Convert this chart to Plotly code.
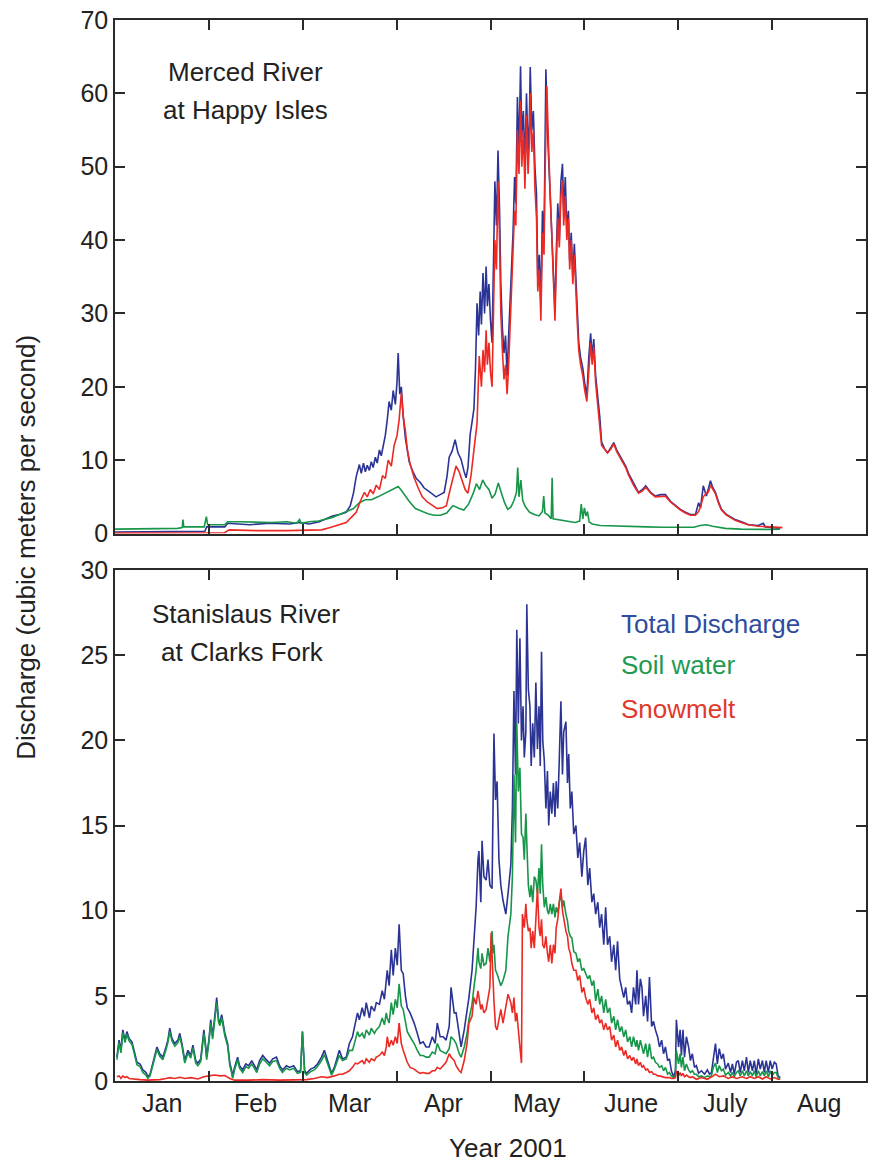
import plotly.graph_objects as go

# x values are days since 1 Jan 2001 (axis uses 30-day month spacing as in the original figure)
month_labels = ["Jan", "Feb", "Mar", "Apr", "May", "June", "July", "Aug"]
month_centers = [15, 45, 75, 105, 135, 165, 195, 225]
month_bounds = [30, 60, 90, 120, 150, 180, 210]

# ---------------- Merced River at Happy Isles (top panel) ----------------
merced_total = [
    (0.0, 0.2), (11.2, 0.2), (21.7, 0.25), (28.7, 0.3), (29.3, 0.9), (35.1, 0.9), (36.0, 1.4), (43.0, 1.2),
    (49.4, 1.4), (55.8, 1.3), (59.0, 1.5), (62.1, 1.3), (65.3, 1.6), (67.6, 2.0), (69.5, 2.4), (71.7, 2.6),
    (73.9, 2.9), (75.2, 3.8), (76.2, 5.5), (77.1, 7.8), (78.1, 9.4), (78.7, 8.2), (79.4, 9.6), (80.0, 8.4),
    (80.6, 9.3), (81.3, 8.6), (81.9, 9.8), (82.5, 9.0), (83.2, 10.4), (83.8, 9.6), (84.5, 11.4), (85.1, 10.6),
    (85.7, 12.0), (86.4, 13.4), (87.0, 15.5), (87.6, 18.0), (88.3, 16.8), (88.9, 19.5), (89.6, 17.6), (90.1, 20.5),
    (90.5, 24.6), (91.0, 19.0), (91.5, 20.0), (92.1, 16.0), (92.8, 13.0), (93.4, 11.6), (94.0, 9.8), (95.0, 8.6),
    (96.3, 7.5), (97.5, 7.0), (98.8, 6.2), (100.1, 5.8), (101.4, 5.4), (102.6, 5.0), (103.9, 5.3), (105.2, 5.6),
    (106.1, 7.8), (106.8, 10.4), (107.7, 11.2), (108.7, 12.8), (109.6, 11.0), (110.6, 10.1), (111.6, 8.4), (112.2, 7.6),
    (112.8, 9.0), (113.5, 13.5), (114.1, 15.2), (114.7, 17.0), (115.2, 22.5), (115.7, 31.4), (116.2, 27.0), (116.7, 33.0),
    (117.1, 28.5), (117.6, 35.5), (118.1, 30.0), (118.6, 36.4), (119.0, 31.0), (119.5, 34.0), (120.0, 29.0), (120.5, 26.0),
    (121.0, 38.0), (121.4, 48.0), (121.9, 42.0), (122.4, 52.2), (122.9, 44.0), (123.3, 34.0), (123.8, 28.0), (124.3, 24.6),
    (124.8, 27.0), (125.3, 21.5), (125.7, 26.0), (126.2, 31.0), (126.7, 36.0), (127.2, 41.0), (127.7, 48.6), (128.1, 45.0),
    (128.6, 59.5), (129.1, 52.0), (129.6, 63.7), (130.0, 54.0), (130.5, 57.6), (131.0, 50.0), (131.5, 60.0), (132.0, 52.0),
    (132.4, 56.0), (132.7, 63.6), (133.2, 55.0), (133.7, 57.6), (134.2, 50.0), (134.7, 46.3), (135.1, 35.0), (135.6, 38.0),
    (136.1, 31.4), (136.6, 44.0), (137.1, 40.0), (137.4, 52.0), (137.7, 63.3), (138.2, 55.0), (138.6, 50.8), (139.1, 46.0),
    (139.6, 41.8), (140.1, 36.0), (140.6, 30.4), (141.0, 38.0), (141.5, 45.0), (142.0, 40.0), (142.5, 48.0), (143.0, 50.4),
    (143.4, 44.0), (143.9, 48.6), (144.4, 41.3), (144.9, 44.0), (145.3, 37.2), (145.8, 41.0), (146.3, 35.0), (146.8, 39.5),
    (147.3, 33.7), (147.7, 30.0), (148.2, 26.0), (148.8, 24.0), (149.5, 22.5), (150.1, 20.5), (150.8, 18.8), (151.4, 24.0),
    (152.0, 27.3), (152.5, 24.0), (153.0, 26.5), (153.6, 21.5), (154.2, 19.0), (154.9, 16.0), (155.5, 12.5), (156.5, 11.5),
    (157.4, 11.0), (158.4, 11.8), (159.4, 12.4), (160.3, 11.4), (161.3, 10.6), (162.2, 10.0), (163.2, 9.2), (164.1, 8.2),
    (165.7, 6.8), (167.3, 5.6), (168.6, 6.0), (169.6, 6.5), (171.2, 5.6), (172.7, 5.1), (174.3, 5.3), (175.9, 5.3),
    (177.5, 4.4), (179.1, 3.8), (180.7, 3.3), (182.3, 2.9), (183.9, 2.6), (185.5, 2.6), (186.5, 4.2), (187.1, 3.5),
    (188.0, 6.5), (189.0, 5.1), (189.6, 6.0), (190.3, 7.2), (190.9, 6.4), (191.9, 5.6), (192.8, 4.4), (193.8, 3.3),
    (195.4, 2.6), (198.2, 1.9), (200.8, 1.5), (202.4, 1.2), (205.6, 1.1), (207.2, 1.4), (207.8, 0.9), (209.7, 0.8),
    (211.3, 0.8), (212.6, 0.7),
]

merced_snow = [
    (0.0, 0.05), (20.0, 0.05), (28.7, 0.1), (35.0, 0.1), (36.5, 0.5), (45.0, 0.4), (55.0, 0.4), (62.0, 0.4),
    (66.0, 0.5), (68.5, 0.8), (72.0, 1.2), (73.9, 1.5), (75.5, 2.2), (77.1, 2.9), (78.5, 4.5), (79.7, 5.6),
    (80.6, 5.0), (81.6, 6.0), (82.5, 5.4), (83.5, 6.6), (84.5, 6.0), (85.5, 7.9), (86.4, 7.5), (87.3, 10.0),
    (88.3, 9.2), (89.2, 12.0), (90.1, 13.3), (90.8, 15.5), (91.5, 19.2), (92.1, 16.0), (92.8, 14.0), (93.4, 11.5),
    (94.3, 9.5), (95.6, 7.6), (96.9, 6.2), (98.2, 5.0), (99.8, 4.3), (101.4, 3.8), (103.0, 3.4), (104.6, 3.5),
    (105.9, 3.8), (107.1, 6.0), (108.1, 7.9), (109.0, 9.2), (110.0, 8.4), (110.9, 7.3), (111.9, 6.0), (112.8, 5.5),
    (113.8, 8.0), (114.7, 11.4), (115.7, 15.0), (116.4, 24.2), (117.1, 20.0), (117.6, 25.0), (118.1, 22.0), (118.6, 27.7),
    (119.0, 23.0), (119.5, 26.0), (120.0, 22.0), (120.5, 20.0), (121.0, 30.0), (121.4, 40.0), (121.9, 36.0), (122.4, 48.0),
    (122.9, 40.0), (123.3, 30.0), (123.8, 25.0), (124.3, 21.0), (124.8, 23.0), (125.3, 19.0), (125.7, 22.0), (126.2, 27.0),
    (126.7, 32.0), (127.2, 38.0), (127.7, 44.0), (128.1, 42.0), (128.6, 55.0), (129.1, 49.0), (129.6, 59.0), (130.0, 50.0),
    (130.5, 55.0), (131.0, 47.0), (131.5, 57.0), (132.0, 49.0), (132.4, 53.0), (132.7, 60.0), (133.2, 52.0), (133.7, 55.0),
    (134.2, 47.0), (134.7, 43.0), (135.1, 33.0), (135.6, 36.0), (136.1, 29.0), (136.6, 41.0), (137.1, 38.0), (137.4, 48.0),
    (137.7, 55.0), (138.0, 61.0), (138.6, 52.0), (139.1, 46.0), (139.6, 40.0), (140.1, 34.0), (140.6, 29.0), (141.0, 36.0),
    (141.5, 43.0), (142.0, 39.0), (142.5, 46.0), (143.0, 48.0), (143.4, 42.0), (143.9, 46.0), (144.4, 40.0), (144.9, 43.0),
    (145.3, 36.0), (145.8, 40.0), (146.3, 34.0), (146.8, 38.0), (147.3, 32.0), (147.7, 29.0), (148.2, 25.0), (148.8, 23.0),
    (149.5, 21.5), (150.1, 19.5), (150.8, 18.0), (151.4, 22.5), (152.0, 26.0), (152.5, 23.0), (153.0, 25.5), (153.6, 20.5),
    (154.2, 18.0), (154.9, 15.0), (155.5, 12.0), (156.5, 11.5), (157.4, 11.0), (158.4, 11.5), (159.4, 12.2), (160.3, 11.2),
    (161.3, 10.5), (162.2, 9.8), (163.2, 9.0), (164.1, 8.0), (165.7, 6.6), (167.3, 5.5), (168.6, 5.8), (169.6, 6.3),
    (171.2, 5.5), (172.7, 5.0), (174.3, 5.1), (175.9, 5.1), (177.5, 4.3), (179.1, 3.7), (180.7, 3.2), (182.3, 2.8),
    (183.9, 2.5), (185.5, 2.5), (186.5, 3.0), (187.1, 3.6), (188.0, 5.0), (189.0, 5.5), (189.6, 5.6), (190.3, 6.6),
    (190.9, 6.2), (191.9, 5.4), (192.8, 4.2), (193.8, 3.2), (195.4, 2.5), (198.2, 1.8), (200.8, 1.4), (202.4, 1.2),
    (205.6, 1.0), (209.7, 0.9), (211.3, 0.8), (213.3, 0.8),
]

merced_soil = [
    (0.0, 0.6), (10.0, 0.6), (20.0, 0.7), (21.5, 0.8), (21.7, 1.9), (22.0, 0.9), (28.5, 0.9), (29.2, 2.3),
    (29.6, 1.2), (35.0, 1.2), (36.0, 1.6), (40.0, 1.6), (45.0, 1.5), (50.0, 1.5), (55.0, 1.6), (58.0, 1.4),
    (59.0, 1.9), (59.5, 1.4), (62.0, 1.6), (65.0, 1.7), (69.5, 2.2), (72.0, 2.6), (74.0, 3.0), (76.2, 3.4),
    (78.1, 4.2), (80.0, 4.6), (82.0, 4.6), (84.0, 5.0), (86.0, 5.4), (88.0, 5.8), (89.5, 6.2), (90.5, 6.4),
    (91.5, 5.9), (92.5, 5.3), (94.0, 4.4), (96.0, 3.4), (98.0, 3.0), (100.0, 2.7), (102.0, 2.5), (104.0, 2.5),
    (106.0, 2.8), (108.0, 3.8), (110.0, 3.4), (111.5, 3.2), (113.0, 4.0), (114.5, 5.5), (115.5, 6.8), (116.5, 6.0),
    (117.5, 7.3), (118.5, 6.5), (119.5, 6.0), (120.5, 4.8), (121.5, 5.4), (122.5, 6.9), (123.5, 5.5), (124.5, 4.2),
    (125.5, 3.3), (126.5, 3.6), (127.5, 4.5), (128.3, 5.6), (128.7, 9.0), (129.1, 5.0), (129.7, 7.3), (130.3, 4.5),
    (131.2, 3.6), (132.5, 2.9), (134.0, 2.6), (135.5, 2.4), (136.6, 3.0), (137.0, 5.1), (137.4, 2.8), (138.4, 2.5),
    (139.4, 2.0), (139.7, 7.6), (140.0, 2.0), (141.5, 1.9), (143.5, 1.8), (145.5, 1.6), (147.0, 1.5), (148.5, 1.7),
    (149.0, 4.0), (149.5, 2.0), (150.0, 3.5), (150.5, 2.4), (151.0, 3.0), (151.5, 1.6), (152.5, 1.3), (155.0, 1.1),
    (160.0, 1.0), (165.0, 0.95), (170.0, 0.9), (175.0, 0.85), (180.0, 0.8), (185.0, 0.85), (187.0, 1.1), (189.0, 1.2),
    (191.0, 1.0), (195.0, 0.7), (200.0, 0.6), (205.0, 0.55), (210.0, 0.55), (212.5, 0.6),
]

# ---------------- Stanislaus River at Clarks Fork (bottom panel) ----------------
stanislaus_total = [
    (0.6, 1.4), (1.3, 2.4), (1.9, 1.8), (2.5, 3.0), (3.2, 2.4), (3.8, 2.9), (4.5, 2.5), (5.4, 2.3), (6.1, 1.8),
    (7.0, 1.1), (8.0, 1.0), (8.9, 0.65), (9.9, 0.5), (10.5, 0.25), (11.2, 0.4), (12.1, 1.05), (12.7, 1.6), (13.4, 2.0),
    (14.3, 1.6), (15.3, 1.4), (16.3, 2.0), (16.9, 2.4), (17.5, 3.1), (18.2, 2.5), (19.1, 2.2), (20.1, 2.4), (20.7, 2.8),
    (21.4, 2.2), (22.3, 1.2), (23.3, 1.8), (24.2, 1.5), (24.9, 2.1), (25.8, 1.2), (26.5, 1.05), (27.4, 1.3), (28.4, 3.0),
    (29.0, 2.0), (29.3, 1.4), (30.0, 2.4), (30.6, 3.6), (31.2, 2.6), (31.9, 3.8), (32.5, 4.9), (33.1, 3.6), (33.5, 3.4),
    (34.1, 3.9), (35.1, 2.8), (36.0, 2.2), (36.7, 1.05), (37.3, 0.6), (37.6, 0.25), (38.2, 0.8), (39.2, 1.4), (39.8, 0.9),
    (40.8, 0.65), (41.8, 1.0), (42.7, 0.9), (43.7, 1.2), (44.6, 0.9), (45.3, 0.65), (46.2, 1.2), (47.2, 1.5), (48.1, 1.3),
    (49.4, 1.05), (50.4, 1.3), (51.6, 1.4), (52.6, 0.9), (53.5, 0.65), (54.8, 0.9), (55.8, 0.8), (57.1, 0.9), (58.3, 0.55),
    (59.3, 0.6), (59.9, 2.9), (60.6, 0.6), (61.2, 0.45), (62.5, 0.7), (63.7, 0.8), (64.7, 1.0), (66.0, 1.4), (66.9, 1.8),
    (67.9, 1.2), (69.2, 0.45), (70.1, 0.8), (71.7, 1.8), (72.7, 1.3), (73.9, 1.4), (74.9, 2.2), (75.9, 2.6), (76.8, 3.4),
    (77.5, 4.0), (78.1, 3.6), (79.0, 4.3), (79.7, 3.8), (80.3, 4.6), (81.3, 3.7), (81.9, 4.4), (82.9, 4.1), (83.5, 4.6),
    (84.5, 4.5), (85.4, 5.3), (86.1, 4.8), (86.7, 6.0), (87.0, 6.5), (87.6, 5.6), (88.3, 7.7), (88.9, 6.2), (89.6, 7.8),
    (90.2, 6.8), (90.8, 9.2), (91.5, 6.5), (92.1, 6.3), (92.8, 5.0), (93.4, 4.3), (94.3, 4.0), (95.6, 3.4), (96.6, 2.8),
    (97.5, 2.2), (98.5, 2.3), (99.4, 2.0), (100.4, 2.0), (101.4, 2.6), (102.3, 2.2), (103.0, 3.4), (103.9, 2.6), (104.9, 2.6),
    (105.8, 2.4), (106.8, 3.2), (107.4, 5.5), (108.4, 4.0), (109.0, 4.0), (110.0, 2.6), (110.6, 2.0), (111.6, 3.0), (112.5, 4.0),
    (113.1, 4.9), (114.1, 6.5), (114.7, 8.0), (115.4, 10.2), (116.0, 13.0), (116.3, 13.5), (116.9, 10.5), (117.3, 14.1),
    (117.9, 12.0), (118.6, 11.8), (119.2, 13.0), (119.8, 11.5), (120.5, 11.3), (120.8, 16.0), (121.1, 20.4), (121.6, 16.5),
    (122.1, 17.6), (122.7, 13.0), (123.3, 11.5), (124.0, 10.6), (124.9, 9.8), (125.6, 11.0), (126.5, 12.7), (127.0, 16.0),
    (127.5, 22.9), (128.0, 18.0), (128.4, 26.5), (128.9, 21.0), (129.4, 26.0), (129.9, 20.0), (130.4, 22.0), (130.8, 19.0),
    (131.3, 20.5), (131.6, 28.0), (132.1, 23.0), (132.6, 22.0), (133.0, 18.5), (133.5, 21.0), (134.0, 19.0), (134.5, 23.4),
    (135.0, 19.5), (135.5, 22.0), (135.9, 18.5), (136.3, 25.2), (136.7, 20.0), (137.2, 18.8), (137.7, 16.0), (138.2, 18.2),
    (138.6, 15.0), (139.1, 17.0), (139.6, 15.7), (140.1, 17.5), (140.6, 15.5), (141.0, 17.6), (141.5, 16.0), (142.0, 19.0),
    (142.5, 22.3), (143.0, 18.0), (143.4, 20.5), (144.1, 21.1), (144.6, 17.5), (145.0, 19.2), (145.5, 16.0), (146.0, 17.0),
    (146.6, 14.5), (147.3, 15.0), (147.9, 13.1), (148.5, 14.0), (149.2, 12.0), (149.8, 13.5), (150.4, 14.3), (151.1, 11.5),
    (151.7, 12.5), (152.4, 10.5), (153.0, 11.0), (153.6, 9.8), (154.3, 10.5), (154.9, 9.0), (155.5, 9.8), (156.2, 8.0),
    (156.8, 10.2), (157.4, 8.0), (158.1, 8.5), (158.7, 7.0), (159.4, 8.0), (160.0, 6.5), (160.6, 8.2), (161.3, 6.0),
    (161.9, 5.5), (162.6, 4.9), (163.2, 5.5), (163.8, 4.5), (164.5, 4.7), (165.1, 4.0), (165.7, 5.5), (166.4, 4.5),
    (166.8, 6.5), (167.3, 4.5), (167.9, 6.0), (168.4, 5.5), (168.9, 3.8), (169.6, 5.0), (170.2, 3.5), (170.8, 6.1),
    (171.5, 3.2), (172.1, 3.5), (172.7, 3.0), (173.4, 2.6), (174.0, 2.0), (174.7, 2.4), (175.3, 1.6), (175.9, 2.0),
    (176.6, 1.2), (177.2, 1.3), (177.8, 0.6), (178.5, 0.25), (179.1, 0.6), (179.4, 3.6), (180.1, 2.0), (180.6, 3.0),
    (181.0, 1.5), (181.5, 3.0), (182.0, 1.4), (182.6, 2.6), (183.3, 2.0), (183.9, 1.2), (184.5, 1.6), (185.2, 0.8),
    (185.8, 0.9), (186.5, 0.45), (187.4, 0.6), (188.4, 0.4), (189.3, 0.65), (190.0, 0.4), (190.6, 0.5), (191.2, 1.4),
    (191.9, 2.2), (192.5, 1.0), (193.1, 1.9), (193.8, 1.3), (194.4, 1.6), (195.1, 0.7), (196.0, 1.05), (196.7, 0.5),
    (197.3, 1.0), (197.9, 0.4), (198.6, 1.1), (199.2, 1.2), (199.8, 0.5), (200.5, 1.2), (201.1, 0.6), (201.8, 1.4),
    (202.4, 0.5), (203.0, 1.2), (203.7, 0.6), (204.3, 1.2), (204.9, 0.4), (205.6, 1.3), (206.2, 0.7), (206.9, 1.2),
    (207.5, 0.5), (208.1, 1.2), (208.8, 0.5), (209.4, 1.2), (210.0, 0.7), (210.7, 1.1), (211.3, 1.0), (211.9, 0.3),
    (212.6, 0.2),
]

stanislaus_soil = [
    (0.6, 1.25), (1.3, 2.25), (1.9, 1.65), (2.5, 2.85), (3.2, 2.25), (3.8, 2.75), (4.5, 2.35), (5.4, 2.15), (6.1, 1.65),
    (7.0, 0.95), (8.0, 0.85), (8.9, 0.5), (9.9, 0.35), (10.5, 0.15), (11.2, 0.3), (12.1, 0.9), (12.7, 1.45), (13.4, 1.85),
    (14.3, 1.45), (15.3, 1.25), (16.3, 1.85), (16.9, 2.25), (17.5, 2.9), (18.2, 2.35), (19.1, 2.05), (20.1, 2.25), (20.7, 2.6),
    (21.4, 2.05), (22.3, 1.05), (23.3, 1.65), (24.2, 1.35), (24.9, 1.95), (25.8, 1.05), (26.5, 0.9), (27.4, 1.15), (28.4, 2.8),
    (29.0, 1.85), (29.3, 1.25), (30.0, 2.25), (30.6, 3.4), (31.2, 2.45), (31.9, 3.6), (32.5, 4.6), (33.1, 3.45), (33.5, 3.25),
    (34.1, 3.7), (35.1, 2.65), (36.0, 2.05), (36.7, 0.9), (37.3, 0.45), (37.6, 0.15), (38.2, 0.65), (39.2, 1.25), (39.8, 0.75),
    (40.8, 0.5), (41.8, 0.85), (42.7, 0.75), (43.7, 1.0), (44.6, 0.75), (45.3, 0.5), (46.2, 1.0), (47.2, 1.3), (48.1, 1.15),
    (49.4, 0.9), (50.4, 1.15), (51.6, 1.2), (52.6, 0.75), (53.5, 0.5), (54.8, 0.75), (55.8, 0.65), (57.1, 0.75), (58.3, 0.45),
    (59.3, 0.5), (59.9, 2.9), (60.6, 0.5), (61.2, 0.35), (62.5, 0.55), (63.7, 0.65), (64.7, 0.85), (66.0, 1.2), (66.9, 1.55),
    (67.9, 1.0), (69.2, 0.35), (70.1, 0.7), (71.7, 1.5), (72.7, 1.2), (73.9, 1.3), (74.9, 1.8), (75.9, 1.8), (76.8, 2.4),
    (77.5, 2.9), (78.1, 2.6), (79.0, 2.8), (79.7, 2.5), (80.3, 3.0), (81.3, 2.7), (81.9, 3.1), (82.9, 2.8), (83.5, 3.0),
    (84.5, 3.2), (85.4, 3.7), (86.1, 3.3), (86.7, 4.0), (87.0, 3.7), (87.6, 3.4), (88.3, 4.6), (88.9, 3.9), (89.6, 4.8),
    (90.2, 4.3), (90.8, 5.7), (91.5, 4.4), (92.1, 4.2), (92.8, 3.5), (93.4, 2.9), (94.3, 2.6), (95.6, 2.2), (96.6, 1.8),
    (97.5, 1.5), (98.5, 1.5), (99.4, 1.4), (100.4, 1.4), (101.4, 1.7), (102.3, 1.6), (103.0, 2.2), (103.9, 1.8), (104.9, 1.7),
    (105.8, 1.6), (106.8, 1.9), (107.4, 2.6), (108.4, 2.4), (109.0, 2.2), (110.0, 1.6), (110.6, 1.4), (111.6, 2.0), (112.5, 2.8),
    (113.1, 3.6), (114.1, 4.5), (114.7, 5.5), (115.4, 6.5), (116.0, 7.8), (116.3, 7.0), (116.9, 6.6), (117.3, 7.5),
    (117.9, 6.8), (118.6, 6.9), (119.2, 7.8), (119.8, 7.0), (120.5, 8.8), (120.8, 7.5), (121.1, 8.0), (121.6, 6.5),
    (122.1, 6.3), (122.7, 6.0), (123.3, 5.6), (124.0, 5.9), (124.9, 6.5), (125.6, 8.5), (126.5, 9.8), (127.0, 12.0),
    (127.5, 18.0), (128.0, 14.0), (128.4, 21.0), (128.9, 17.0), (129.4, 18.4), (129.9, 14.5), (130.4, 14.3), (130.8, 13.0),
    (131.3, 15.7), (131.6, 14.0), (132.1, 11.5), (132.6, 10.8), (133.0, 11.5), (133.5, 10.5), (134.0, 12.0), (134.5, 11.8),
    (135.0, 11.0), (135.5, 12.5), (135.9, 11.0), (136.3, 13.9), (136.7, 11.5), (137.2, 10.2), (137.7, 10.8), (138.2, 10.0),
    (138.6, 9.8), (139.1, 10.4), (139.6, 9.8), (140.1, 10.4), (140.6, 9.6), (141.0, 10.2), (141.5, 9.9), (142.0, 10.5),
    (142.5, 11.0), (143.0, 10.2), (143.4, 10.6), (144.1, 9.8), (144.6, 9.4), (145.0, 8.8), (145.5, 8.5), (146.0, 8.4),
    (146.6, 7.6), (147.3, 7.5), (147.9, 7.0), (148.5, 7.2), (149.2, 6.5), (149.8, 6.6), (150.4, 6.3), (151.1, 6.0),
    (151.7, 6.2), (152.4, 5.6), (153.0, 5.9), (153.6, 4.7), (154.3, 5.4), (154.9, 4.5), (155.5, 5.0), (156.2, 4.0),
    (156.8, 4.8), (157.4, 4.0), (158.1, 4.3), (158.7, 3.4), (159.4, 3.8), (160.0, 3.0), (160.6, 3.6), (161.3, 2.9),
    (161.9, 3.2), (162.6, 2.6), (163.2, 3.0), (163.8, 2.3), (164.5, 2.6), (165.1, 2.0), (165.7, 2.6), (166.4, 2.0),
    (166.8, 2.4), (167.3, 1.8), (167.9, 2.4), (168.4, 2.0), (168.9, 1.6), (169.6, 2.2), (170.2, 1.4), (170.8, 2.2),
    (171.5, 1.3), (172.1, 1.4), (172.7, 1.1), (173.4, 1.0), (174.0, 0.8), (174.7, 0.9), (175.3, 0.6), (175.9, 0.8),
    (176.6, 0.4), (177.2, 0.5), (177.8, 0.3), (178.5, 0.2), (179.1, 0.3), (179.4, 1.8), (180.1, 1.0), (180.6, 1.6),
    (181.0, 0.8), (181.5, 1.4), (182.0, 0.6), (182.6, 1.0), (183.3, 0.65), (183.9, 0.5), (184.5, 0.6), (185.2, 0.4),
    (185.8, 0.4), (186.5, 0.25), (187.4, 0.3), (188.4, 0.2), (189.3, 0.3), (190.0, 0.25), (190.6, 0.3), (191.2, 0.8),
    (191.9, 1.05), (192.5, 0.5), (193.1, 0.9), (193.8, 0.6), (194.4, 0.7), (195.1, 0.35), (196.0, 0.5), (196.7, 0.3),
    (197.3, 0.5), (197.9, 0.25), (198.6, 0.5), (199.2, 0.6), (199.8, 0.3), (200.5, 0.6), (201.1, 0.3), (201.8, 0.6),
    (202.4, 0.3), (203.0, 0.55), (203.7, 0.3), (204.3, 0.6), (204.9, 0.25), (205.6, 0.6), (206.2, 0.3), (206.9, 0.55),
    (207.5, 0.3), (208.1, 0.6), (208.8, 0.25), (209.4, 0.6), (210.0, 0.3), (210.7, 0.5), (211.3, 0.5), (211.9, 0.2),
    (212.6, 0.15),
]

stanislaus_snow = [
    (0.6, 0.25), (1.3, 0.3), (1.9, 0.15), (2.5, 0.3), (3.2, 0.2), (3.8, 0.25), (4.5, 0.15), (6.1, 0.1), (8.0, 0.08),
    (10.5, 0.05), (14.3, 0.08), (16.3, 0.15), (17.5, 0.2), (19.1, 0.15), (20.7, 0.22), (22.3, 0.15), (24.2, 0.2),
    (26.5, 0.12), (28.4, 0.25), (30.0, 0.3), (31.9, 0.35), (33.5, 0.3), (35.1, 0.32), (36.7, 0.15), (38.2, 0.05),
    (42.7, 0.05), (47.2, 0.08), (52.6, 0.05), (57.1, 0.05), (61.2, 0.08), (63.7, 0.15), (66.0, 0.25), (67.9, 0.2),
    (69.2, 0.25), (70.1, 0.3), (71.7, 0.4), (72.7, 0.4), (73.9, 0.5), (74.9, 0.6), (75.9, 0.8), (76.8, 1.05),
    (77.5, 1.0), (78.1, 1.1), (79.0, 1.2), (79.7, 1.0), (80.3, 1.3), (81.3, 1.1), (81.9, 1.3), (82.9, 1.2),
    (83.5, 1.4), (84.5, 1.5), (85.4, 1.7), (86.1, 1.5), (86.7, 2.0), (87.0, 2.6), (87.6, 2.0), (88.3, 2.4),
    (88.9, 2.1), (89.6, 2.6), (90.2, 2.2), (90.8, 3.4), (91.5, 2.2), (92.1, 1.8), (92.8, 1.4), (93.4, 1.1),
    (94.3, 0.8), (95.6, 0.7), (96.6, 0.55), (97.5, 0.45), (98.5, 0.5), (99.4, 0.45), (100.4, 0.45), (101.4, 0.6),
    (102.3, 0.6), (103.0, 0.8), (103.9, 0.7), (104.9, 0.9), (105.8, 1.1), (106.8, 1.6), (107.4, 1.4), (108.4, 1.2),
    (109.0, 0.9), (110.0, 0.6), (110.6, 0.5), (111.6, 1.2), (112.5, 2.2), (113.1, 3.4), (114.1, 3.8), (114.7, 4.9),
    (115.4, 4.5), (116.0, 5.3), (116.3, 4.8), (116.9, 4.2), (117.3, 4.5), (117.9, 4.0), (118.6, 4.2), (119.2, 5.0),
    (119.8, 5.5), (120.2, 8.7), (120.5, 6.9), (120.8, 5.5), (121.1, 4.7), (121.6, 3.2), (122.1, 3.0), (122.7, 3.6),
    (123.3, 4.2), (124.0, 3.4), (124.9, 4.5), (125.6, 5.1), (126.5, 4.6), (127.0, 4.0), (127.5, 4.9), (128.0, 3.5),
    (128.4, 4.0), (128.9, 2.8), (129.4, 2.0), (129.9, 1.05), (130.2, 9.8), (130.8, 9.0), (131.3, 10.4), (131.6, 9.5),
    (132.1, 8.8), (132.6, 9.0), (133.0, 7.8), (133.5, 8.8), (134.0, 7.8), (134.5, 9.5), (135.0, 11.3), (135.5, 9.0),
    (135.9, 8.5), (136.3, 9.5), (136.7, 8.0), (137.2, 7.8), (137.7, 8.5), (138.2, 7.5), (138.6, 7.0), (139.1, 8.0),
    (139.6, 6.9), (140.1, 8.0), (140.6, 7.5), (141.0, 9.0), (141.5, 9.5), (142.0, 10.5), (142.5, 11.3), (143.0, 10.0),
    (143.4, 9.5), (144.1, 8.8), (144.6, 8.5), (145.0, 7.8), (145.5, 7.5), (146.0, 6.9), (146.6, 6.5), (147.3, 6.5),
    (147.9, 5.9), (148.5, 6.2), (149.2, 5.2), (149.8, 5.5), (150.4, 4.9), (151.1, 4.5), (151.7, 4.8), (152.4, 4.0),
    (153.0, 4.3), (153.6, 3.6), (154.3, 3.9), (154.9, 3.4), (155.5, 3.6), (156.2, 3.0), (156.8, 3.4), (157.4, 3.0),
    (158.1, 3.2), (158.7, 2.4), (159.4, 2.7), (160.0, 2.0), (160.6, 2.4), (161.3, 1.8), (161.9, 2.0), (162.6, 1.5),
    (163.2, 1.8), (163.8, 1.3), (164.5, 1.5), (165.1, 1.2), (165.7, 1.4), (166.4, 1.0), (166.8, 1.3), (167.3, 0.9),
    (167.9, 1.1), (168.4, 0.8), (168.9, 0.9), (169.6, 0.65), (170.2, 0.7), (170.8, 0.5), (171.5, 0.55), (172.1, 0.4),
    (172.7, 0.4), (173.4, 0.3), (174.0, 0.3), (174.7, 0.25), (175.3, 0.25), (175.9, 0.2), (176.6, 0.2), (177.2, 0.2),
    (177.8, 0.15), (178.5, 0.15), (179.1, 0.2), (179.4, 0.6), (180.1, 0.3), (180.6, 0.5), (181.0, 0.3), (181.5, 0.45),
    (182.0, 0.25), (182.6, 0.35), (183.3, 0.25), (183.9, 0.2), (184.5, 0.25), (185.8, 0.1), (187.4, 0.2), (189.3, 0.1),
    (191.2, 0.3), (191.9, 0.4), (193.1, 0.25), (194.4, 0.3), (196.0, 0.15), (197.3, 0.25), (198.6, 0.15), (200.5, 0.25),
    (201.8, 0.15), (203.0, 0.25), (204.3, 0.15), (205.6, 0.25), (206.9, 0.12), (208.1, 0.25), (209.4, 0.12), (210.7, 0.2),
    (211.9, 0.1), (212.6, 0.1),
]

BLUE = "#2b3494"
GREEN = "#17964a"
RED = "#ec2a24"
AXIS = "#2a2a2a"
FONT = "Liberation Sans, Arial, sans-serif"


def xs(pairs):
    return [p[0] for p in pairs]


def ys(pairs):
    return [p[1] for p in pairs]


fig = go.Figure()
for series, color, xa, ya in [
    (merced_total, BLUE, "x", "y"), (merced_soil, GREEN, "x", "y"), (merced_snow, RED, "x", "y"),
    (stanislaus_total, BLUE, "x2", "y2"), (stanislaus_soil, GREEN, "x2", "y2"), (stanislaus_snow, RED, "x2", "y2"),
]:
    fig.add_trace(go.Scatter(x=xs(series), y=ys(series), mode="lines", xaxis=xa, yaxis=ya,
                             line=dict(color=color, width=1.6), showlegend=False, hoverinfo="skip"))

# month-boundary tick marks (inside, mirrored on top) without labels
xcommon = dict(range=[0, 240], showgrid=False, zeroline=False, showline=True, linecolor=AXIS, linewidth=1.5,
               mirror="ticks", tickvals=month_bounds, ticks="inside", ticklen=10, tickcolor=AXIS, tickwidth=1.5,
               showticklabels=False)
ycommon = dict(showgrid=False, zeroline=False, showline=True, linecolor=AXIS, linewidth=1.5, mirror="ticks",
               ticks="inside", ticklen=10, tickcolor=AXIS, tickwidth=1.5,
               tickfont=dict(size=25, color="#222", family=FONT))

fig.update_layout(
    width=874, height=1168, paper_bgcolor="white", plot_bgcolor="white",
    margin=dict(l=115, r=6, t=15, b=87),
    font=dict(family=FONT, color="#222"),
    xaxis=dict(domain=[0, 1], anchor="y", **xcommon),
    yaxis=dict(domain=[0.516, 1], anchor="x", range=[0, 70], dtick=10, **ycommon),
    xaxis2=dict(domain=[0, 1], anchor="y2", **xcommon),
    yaxis2=dict(domain=[0, 0.4815], anchor="x2", range=[0, 30], dtick=5, **ycommon),
)

# month names centred between the boundary ticks
for label, center in zip(month_labels, month_centers):
    fig.add_annotation(text=label, x=center, y=-0.0206, xref="x2", yref="paper", xanchor="center",
                       yanchor="middle", showarrow=False, font=dict(size=25, color="#222", family=FONT))

ann = [
    ("Merced River", 0.174, 0.951, "#222", "center"),
    ("at Happy Isles", 0.174, 0.9156, "#222", "center"),
    ("Stanislaus River", 0.174, 0.440, "#222", "center"),
    ("at Clarks Fork", 0.170, 0.4043, "#222", "center"),
    ("Total Discharge", 0.6706, 0.4306, "#2f4c9e", "left"),
    ("Soil water", 0.6706, 0.3921, "#1f9a52", "left"),
    ("Snowmelt", 0.6706, 0.3508, "#e0392b", "left"),
]
for text, x, y, color, anchor in ann:
    fig.add_annotation(text=text, x=x, y=y, xref="paper", yref="paper", xanchor=anchor, yanchor="middle",
                       showarrow=False, font=dict(size=26, color=color, family=FONT))

fig.add_annotation(text="Year 2001", x=0.523, y=-0.0629, xref="paper", yref="paper", xanchor="center",
                   yanchor="middle", showarrow=False, font=dict(size=26, color="#222", family=FONT))
fig.add_annotation(text="Discharge (cubic meters per second)", x=-0.1195, y=0.5028, xref="paper", yref="paper",
                   xanchor="center", yanchor="middle", textangle=-90, showarrow=False,
                   font=dict(size=26, color="#222", family=FONT))

fig.write_html("out.html")
